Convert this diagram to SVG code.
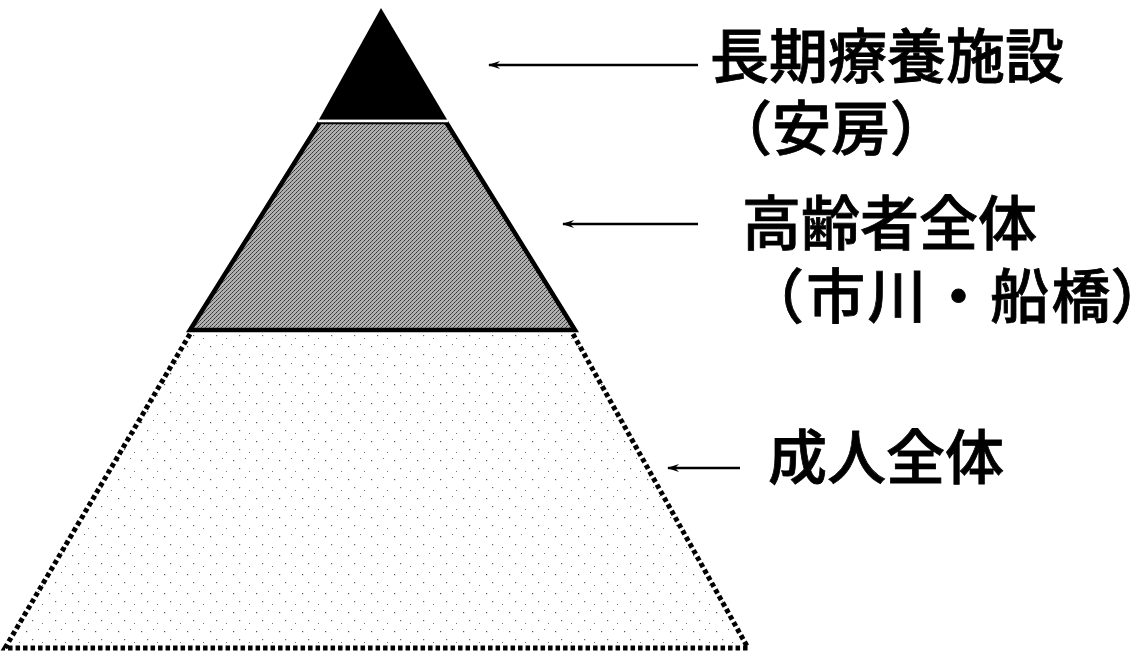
<svg xmlns="http://www.w3.org/2000/svg" width="1136" height="653" viewBox="0 0 1136 653">
  <defs>
    <pattern id="speckle" width="23" height="19" patternUnits="userSpaceOnUse">
      <rect width="23" height="19" fill="#ffffff"/>
      <rect x="3" y="4" width="1.2" height="1.2" fill="#555"/>
      <rect x="15" y="2" width="1" height="1" fill="#777"/>
      <rect x="9" y="12" width="1.2" height="1.2" fill="#666"/>
      <rect x="19" y="15" width="1" height="1" fill="#777"/>
    </pattern>
    <pattern id="dither" width="4" height="4" patternUnits="userSpaceOnUse">
      <rect width="4" height="4" fill="#b0b0b0"/>
      <rect x="0" y="0" width="1" height="1" fill="#333"/>
      <rect x="2" y="2" width="1" height="1" fill="#333"/>
      <rect x="1" y="3" width="1" height="1" fill="#555"/>
      <rect x="3" y="1" width="1" height="1" fill="#555"/>
    </pattern>
    <marker id="arrow" viewBox="0 0 12 10" refX="1" refY="5" markerWidth="12" markerHeight="10" markerUnits="userSpaceOnUse" orient="auto">
      <path d="M12,1 L0,5 L12,9 L8,5 Z" fill="#000"/>
    </marker>
  </defs>
  <style>
    .lbl { font-family: "Noto Sans CJK JP", "Noto Sans CJK SC", sans-serif; font-size: 59px; fill: #000; font-weight: 500; stroke: #000; stroke-width: 0.8; }
    .conn { stroke: #000; stroke-width: 2.5; fill: none; marker-start: url(#arrow); }
    .dotted { stroke: #000; stroke-width: 5; stroke-dasharray: 4.5 3; fill: none; }
  </style>
  <rect width="1136" height="653" fill="#ffffff"/>

  <g id="tier-base">
    <polygon points="190,332 575,332 748,648 5,648" fill="url(#speckle)"/>
    <polyline class="dotted" points="190,334 5,648 748,648 573,334"/>
  </g>

  <g id="tier-middle">
    <polygon points="320,122 446,122 575,330 190,330" fill="url(#dither)" stroke="#000" stroke-width="4.5" stroke-linejoin="miter"/>
    <line x1="318" y1="121" x2="448" y2="121" stroke="#fff" stroke-width="2.5"/>
  </g>

  <g id="tier-top">
    <polygon points="381,8 447,119.5 319,119.5" fill="#000"/>
  </g>

  <g id="connectors">
    <line class="conn" x1="489" y1="65" x2="698" y2="65"/>
    <line class="conn" x1="563" y1="224" x2="698" y2="224"/>
    <line class="conn" x1="668" y1="468" x2="740" y2="468"/>
  </g>

  <g id="label-top">
    <text class="lbl" x="710" y="78">長期療養施設</text>
    <text class="lbl" x="713" y="150">（安房）</text>
  </g>
  <g id="label-middle">
    <text class="lbl" x="742" y="245">高齢者全体</text>
    <text class="lbl" x="745" y="318"><tspan letter-spacing="2.3">（市川・船</tspan>橋）</text>
  </g>
  <g id="label-base">
    <text class="lbl" x="768" y="479">成人全体</text>
  </g>
</svg>
